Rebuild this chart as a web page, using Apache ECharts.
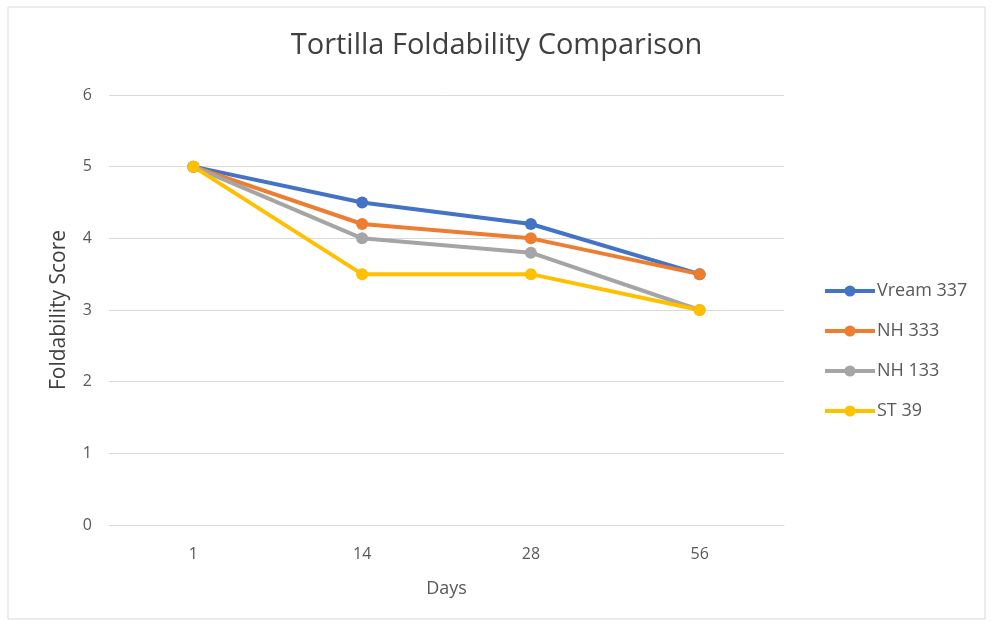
<!DOCTYPE html>
<html>
<head>
<meta charset="utf-8">
<script src="https://cdn.jsdelivr.net/npm/echarts@6/dist/echarts.min.js"></script>
<style>html,body{margin:0;padding:0;background:#fff}#c{width:993px;height:626px}</style>
</head>
<body>
<div id="c"></div>
<script>
const categories = ['1', '14', '28', '56'];
const seriesNames = ['Vream 337', 'NH 333', 'NH 133', 'ST 39'];
const vream337 = [5, 4.5, 4.2, 3.5];
const nh333 = [5, 4.2, 4.0, 3.5];
const nh133 = [5, 4.0, 3.8, 3.0];
const st39 = [5, 3.5, 3.5, 3.0];
const colors = ['#4472C4', '#ED7D31', '#A5A5A5', '#FFC000'];
const values = [vream337, nh333, nh133, st39];
const font = 'Open Sans';

const chart = echarts.init(document.getElementById('c'));
chart.setOption({
  animation: false,
  backgroundColor: '#fff',
  textStyle: { fontFamily: font },
  title: {
    text: 'Tortilla Foldability Comparison',
    left: 'center', top: 26,
    textStyle: { fontFamily: font, fontSize: 29, fontWeight: 'normal', color: '#404040' }
  },
  grid: { left: 109, right: 209, top: 95, bottom: 101 },
  legend: {
    orient: 'vertical', left: 818, top: 276, itemGap: 20,
    itemWidth: 50, itemHeight: 14,
    lineStyle: { width: 4 },
    textStyle: { fontFamily: font, fontSize: 18, lineHeight: 20, color: '#595959', padding: [0,0,0,-3] },
    data: seriesNames
  },
  graphic: [{
    type: 'rect', shape: { x: 8, y: 7, width: 977, height: 612 },
    style: { fill: 'none', stroke: '#d9d9d9', lineWidth: 1 }, silent: true
  }],
  xAxis: {
    type: 'category', data: categories,
    name: 'Days', nameLocation: 'middle', nameGap: 55,
    nameTextStyle: { fontFamily: font, fontSize: 18, color: '#595959' },
    axisLine: { lineStyle: { color: '#d9d9d9', width: 1 } },
    axisTick: { show: false },
    axisLabel: { fontFamily: font, fontSize: 16, color: '#595959', margin: 21 }
  },
  yAxis: {
    type: 'value', min: 0, max: 6, interval: 1,
    name: 'Foldability Score', nameLocation: 'middle', nameGap: 39,
    nameTextStyle: { fontFamily: font, fontSize: 21, color: '#404040' },
    axisLine: { show: false }, axisTick: { show: false },
    axisLabel: { fontFamily: font, fontSize: 16, color: '#595959', margin: 17 },
    splitLine: { lineStyle: { color: '#d9d9d9', width: 1 } }
  },
  series: values.map((v, i) => ({
    name: seriesNames[i], type: 'line', data: v,
    symbol: 'circle', symbolSize: 12,
    lineStyle: { width: 4, color: colors[i] },
    itemStyle: { color: colors[i] }
  }))
});
</script>
</body>
</html>
